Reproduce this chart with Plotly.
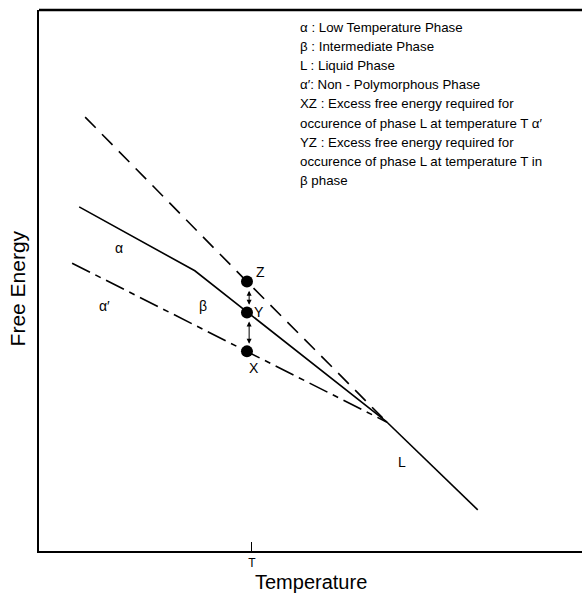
import plotly.graph_objects as go

# ---- data (temperature / free energy in arbitrary units) ----
T_point = 38.3
alpha_beta_x = [7.4, 28.7, 64.1]        # alpha phase then beta phase (solid)
alpha_beta_y = [63.6, 51.8, 23.8]
liquid_x = [64.1, 80.8]                  # liquid phase (solid)
liquid_y = [23.8, 7.6]
liquid_ext_x = [8.5, 38.3, 64.1]         # extrapolated liquid line (dashed)
liquid_ext_y = [80.2, 49.8, 23.8]
alpha_prime_x = [6.1, 38.3, 64.1]        # non-polymorphous phase (dash-dot)
alpha_prime_y = [53.2, 36.9, 23.8]
point_names = ["Z", "Y", "X"]
point_y = [49.8, 44.1, 36.9]
tick_vals = [39.2]
tick_text = ["T"]

legend_lines = [
    "α : Low Temperature Phase",
    "β : Intermediate Phase",
    "L : Liquid Phase",
    "α′: Non - Polymorphous Phase",
    "XZ : Excess free energy required for",
    "occurence of phase L at temperature T α′",
    "YZ : Excess free energy required for",
    "occurence of phase L at temperature T in",
    "β phase",
]

phase_labels = ["α", "α′", "β", "L"]
phase_label_x = [14.7, 12.0, 30.2, 66.9]
phase_label_y = [56.0, 45.3, 45.3, 16.5]
point_label_dx = [2.4, 2.2, 1.3]
point_label_dy = [1.8, 0.1, -3.0]

FONT = "Liberation Sans, Arial, sans-serif"

fig = go.Figure()
fig.add_trace(go.Scatter(x=alpha_beta_x, y=alpha_beta_y, mode="lines",
                         line=dict(color="black", width=1.6), hoverinfo="skip"))
fig.add_trace(go.Scatter(x=liquid_x, y=liquid_y, mode="lines",
                         line=dict(color="black", width=1.6), hoverinfo="skip"))
fig.add_trace(go.Scatter(x=liquid_ext_x, y=liquid_ext_y, mode="lines",
                         line=dict(color="black", width=1.6, dash="15px,9px"), hoverinfo="skip"))
fig.add_trace(go.Scatter(x=alpha_prime_x, y=alpha_prime_y, mode="lines",
                         line=dict(color="black", width=1.6, dash="20px,6px,6px,6px"), hoverinfo="skip"))
fig.add_trace(go.Scatter(x=[T_point] * len(point_y), y=point_y, mode="markers",
                         marker=dict(color="black", size=12), hoverinfo="skip"))

annotations = []
# double arrows between points
for i in range(len(point_y) - 1):
    top = point_y[i] - 1.4
    bot = point_y[i + 1] + 1.4
    annotations.append(dict(x=T_point + 0.4, y=bot, ax=T_point + 0.4, ay=top,
                            xref="x", yref="y", axref="x", ayref="y", text="",
                            showarrow=True, arrowhead=2, arrowside="end+start",
                            arrowsize=1.0, arrowwidth=1, arrowcolor="black"))
for name, dx, dy, yv in zip(point_names, point_label_dx, point_label_dy, point_y):
    annotations.append(dict(x=T_point + dx, y=yv + dy, xref="x", yref="y", text=name,
                            showarrow=False, font=dict(family=FONT, size=14, color="black")))
for lab, lx, ly in zip(phase_labels, phase_label_x, phase_label_y):
    annotations.append(dict(x=lx, y=ly, xref="x", yref="y", text=lab, showarrow=False,
                            font=dict(family=FONT, size=14, color="black")))
for i, line in enumerate(legend_lines):
    annotations.append(dict(x=0.477, y=0.968 - i * 0.0354, xref="paper", yref="paper",
                            xanchor="left", yanchor="middle", text=line, showarrow=False,
                            font=dict(family=FONT, size=13.3, color="black")))
annotations.append(dict(x=0.5, y=-0.058, xref="paper", yref="paper", text="Temperature",
                        showarrow=False, yanchor="middle",
                        font=dict(family=FONT, size=20, color="black")))
annotations.append(dict(x=-0.039, y=0.485, xref="paper", yref="paper", text="Free Energy",
                        showarrow=False, textangle=-90, xanchor="center",
                        font=dict(family=FONT, size=21, color="black")))

fig.update_layout(
    width=582, height=594,
    margin=dict(l=39, r=0, t=10, b=43),
    paper_bgcolor="white", plot_bgcolor="white",
    showlegend=False,
    annotations=annotations,
    shapes=[dict(type="line", xref="paper", yref="paper", x0=0, x1=1, y0=1, y1=1,
                 line=dict(color="black", width=2.5))],
    xaxis=dict(range=[0, 100], showgrid=False, zeroline=False, showline=True,
               linecolor="black", linewidth=2, ticks="inside", ticklen=9, tickwidth=1.2,
               tickcolor="black", tickvals=tick_vals, ticktext=tick_text,
               tickfont=dict(family=FONT, size=12, color="black"), fixedrange=True),
    yaxis=dict(range=[0, 100], showgrid=False, zeroline=False, showline=True,
               linecolor="black", linewidth=2, showticklabels=False, ticks="",
               fixedrange=True),
)

fig.write_html("out.html")
